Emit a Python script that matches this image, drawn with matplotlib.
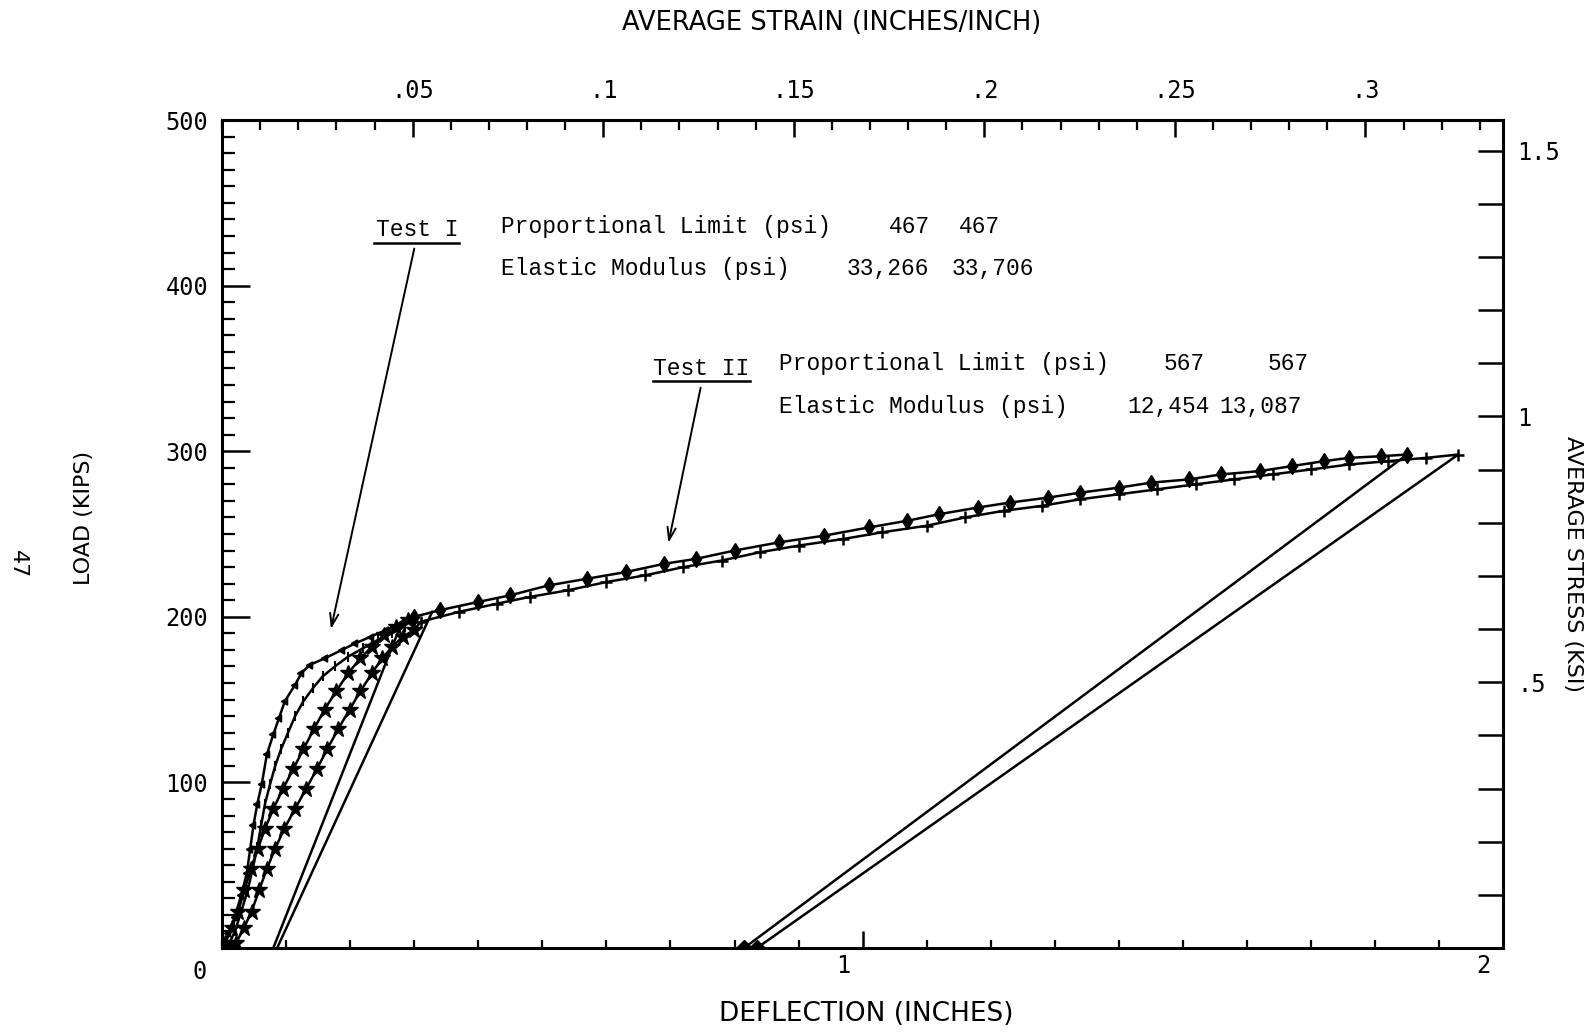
import matplotlib
matplotlib.use('Agg')
import matplotlib.pyplot as plt
from matplotlib.ticker import MultipleLocator

# ---- data (deflection in inches, load in kips) ----
test1a_defl = [0.0, 0.010, 0.020, 0.030, 0.0385, 0.044, 0.049, 0.055, 0.062, 0.070, 0.080,
               0.089, 0.098, 0.114, 0.124, 0.137, 0.161, 0.187, 0.208, 0.232, 0.256, 0.280]
test1a_load = [0, 9, 19, 32, 45, 60, 74, 87, 99, 117, 129,
               139, 149, 159, 166, 171, 175, 180, 184, 188, 192, 196]

test1b_defl = [0.008, 0.020, 0.030, 0.040, 0.048, 0.055, 0.061, 0.067, 0.075, 0.083, 0.092,
               0.103, 0.114, 0.127, 0.142, 0.157, 0.176, 0.197, 0.220, 0.243, 0.265, 0.285]
test1b_load = [0, 10, 22, 35, 48, 61, 74, 87, 99, 110, 120,
               130, 140, 149, 157, 164, 170, 176, 181, 186, 190, 194]

# Test I unloading lines
unload1a_defl = [0.280, 0.080]
unload1a_load = [196, 0]
unload1b_defl = [0.328, 0.086]
unload1b_load = [203, 0]

# Test II, first gauge: low (star) part then long part (diamonds)
test2a_defl = [0.005, 0.015, 0.025, 0.035, 0.045, 0.056, 0.067, 0.080, 0.095, 0.111, 0.127,
               0.143, 0.160, 0.178, 0.197, 0.216, 0.234, 0.253, 0.272, 0.290,
               0.30, 0.34, 0.40, 0.45, 0.51, 0.57, 0.63, 0.69, 0.74, 0.80, 0.87, 0.94,
               1.01, 1.07, 1.12, 1.18, 1.23, 1.29, 1.34, 1.40, 1.45, 1.51, 1.56, 1.62,
               1.67, 1.72, 1.76, 1.81, 1.85]
test2a_load = [3, 12, 22, 35, 48, 60, 72, 84, 96, 108, 120,
               132, 144, 155, 166, 175, 182, 189, 194, 198,
               200, 204, 209, 213, 219, 223, 227, 232, 235, 240, 245, 249,
               254, 258, 262, 266, 269, 272, 275, 278, 281, 283, 286, 288,
               291, 294, 296, 297, 298]
n_low2a = 20

test2b_defl = [0.012, 0.022, 0.034, 0.046, 0.058, 0.070, 0.083, 0.097, 0.114, 0.131, 0.148,
               0.164, 0.181, 0.199, 0.216, 0.234, 0.250, 0.266, 0.282, 0.300,
               0.31, 0.37, 0.43, 0.48, 0.54, 0.60, 0.66, 0.72, 0.78, 0.84, 0.90, 0.97,
               1.03, 1.10, 1.16, 1.22, 1.28, 1.34, 1.40, 1.46, 1.52, 1.58, 1.64, 1.70,
               1.76, 1.82, 1.88, 1.93]
test2b_load = [0, 3, 12, 22, 35, 48, 60, 72, 84, 96, 108,
               120, 132, 144, 155, 166, 175, 182, 188, 192,
               197, 203, 208, 212, 216, 221, 225, 230, 234, 239, 243, 247,
               251, 255, 260, 264, 267, 271, 274, 277, 280, 283, 286, 289,
               292, 294, 296, 298]
n_low2b = 20

# Test II unloading lines
unload2a_defl = [1.85, 0.815]
unload2a_load = [298, 0]
unload2b_defl = [1.93, 0.835]
unload2b_load = [298, 0]

gauge_length = 5.95   # inches, deflection -> strain
area = 321.0          # in^2, kips -> ksi

y_ticks = [100, 200, 300, 400, 500]
y_ticklabels = ['100', '200', '300', '400', '500']
x_ticks = [1, 2]
x_ticklabels = ['1', '2']
strain_ticks = [0.05, 0.10, 0.15, 0.20, 0.25, 0.30]
strain_labels = ['.05', '.1', '.15', '.2', '.25', '.3']
stress_ticks = [0.5, 1.0, 1.5]
stress_labels = ['.5', '1', '1.5']

# ---- figure ----
fig = plt.figure(figsize=(15.93, 10.33), dpi=100)
ax = fig.add_axes([0.1394, 0.0823, 0.8042, 0.8015])
ax.set_xlim(0, 2)
ax.set_ylim(0, 500)

lc = 'black'
lw = 1.8
ax.plot(test1a_defl, test1a_load, color=lc, lw=lw, marker=(3, 0, 90), ms=6)
ax.plot(test1b_defl, test1b_load, color=lc, lw=lw, marker='|', ms=7, mew=1.5)
ax.plot(unload1a_defl, unload1a_load, color=lc, lw=lw)
ax.plot(unload1b_defl, unload1b_load, color=lc, lw=lw)

ax.plot(test2a_defl, test2a_load, color=lc, lw=lw)
ax.plot(test2a_defl[:n_low2a], test2a_load[:n_low2a], ls='none', marker='*', ms=12, color=lc)
ax.plot(test2a_defl[n_low2a:], test2a_load[n_low2a:], ls='none', marker='d', ms=8, color=lc)
ax.plot(test2b_defl, test2b_load, color=lc, lw=lw)
ax.plot(test2b_defl[:n_low2b], test2b_load[:n_low2b], ls='none', marker='*', ms=12, color=lc)
ax.plot(test2b_defl[n_low2b:], test2b_load[n_low2b:], ls='none', marker='+', ms=9, mew=1.8, color=lc)
ax.plot(unload2a_defl, unload2a_load, color=lc, lw=lw, marker='D', ms=8, markevery=[1])
ax.plot(unload2b_defl, unload2b_load, color=lc, lw=lw, marker='D', ms=8, markevery=[1])

# ---- axes / ticks ----
for s in ax.spines.values():
    s.set_linewidth(2.2)

ax.set_yticks(y_ticks, y_ticklabels)
ax.yaxis.set_minor_locator(MultipleLocator(10))
ax.set_xticks(x_ticks, ['', ''])
ax.xaxis.set_minor_locator(MultipleLocator(0.1))
ax.tick_params(axis='y', which='major', direction='in', length=20, width=1.8, pad=10,
               labelsize=17, labelfontfamily='DejaVu Sans Mono')
ax.tick_params(axis='y', which='minor', direction='in', length=9, width=1.6)
ax.tick_params(axis='x', which='major', direction='in', length=12, width=1.8)
ax.tick_params(axis='x', which='minor', direction='in', length=6, width=1.6)

for xv, lab in zip(x_ticks, x_ticklabels):
    ax.annotate(lab, xy=(xv, 0), xycoords=('data', 'axes fraction'),
                xytext=(-14, -13), textcoords='offset points',
                ha='center', va='center', fontsize=17, family='DejaVu Sans Mono')
ax.annotate('0', xy=(0, 0), xycoords='axes fraction', xytext=(-16, -17),
            textcoords='offset points', ha='center', va='center',
            fontsize=17, family='DejaVu Sans Mono')

# top: average strain
axt = ax.twiny()
axt.set_xlim(0, 2 / gauge_length)
axt.set_xticks(strain_ticks, strain_labels)
axt.xaxis.set_minor_locator(MultipleLocator(0.01))
axt.tick_params(axis='x', which='major', direction='in', length=12, width=1.8, pad=12,
                labelsize=17, labelfontfamily='DejaVu Sans Mono')
axt.tick_params(axis='x', which='minor', direction='in', length=7, width=1.6)

# right: average stress
axr = ax.twinx()
axr.set_ylim(0, 500 / area)
axr.set_yticks(stress_ticks, stress_labels)
axr.yaxis.set_minor_locator(MultipleLocator(0.1))
axr.tick_params(axis='y', which='both', direction='in', length=18, width=1.8, pad=10,
                labelsize=17, labelfontfamily='DejaVu Sans Mono')

# ---- labels ----
fig.text(0.522, 0.978, 'AVERAGE STRAIN (INCHES/INCH)', ha='center', va='center', fontsize=18.5)
fig.text(0.544, 0.018, 'DEFLECTION (INCHES)', ha='center', va='center', fontsize=19)
fig.text(0.0527, 0.4985, 'LOAD (KIPS)', ha='center', va='center', rotation=90, fontsize=16)
fig.text(0.9874, 0.454, 'AVERAGE STRESS (KSI)', ha='center', va='center', rotation=270, fontsize=16)
fig.text(0.0113, 0.454, '47', ha='center', va='center', rotation=270, fontsize=16)

# ---- annotations ----
mono = dict(family='Liberation Mono', fontsize=16.5, va='center')
ax.text(0.304, 434, 'Test I', ha='center', **mono)
ax.plot([0.237, 0.370], [426, 426], color=lc, lw=1.8)
ax.text(0.436, 436, 'Proportional Limit (psi)', ha='left', **mono)
ax.text(1.073, 436, '467', ha='center', **mono)
ax.text(1.182, 436, '467', ha='center', **mono)
ax.text(0.436, 410.6, 'Elastic Modulus (psi)', ha='left', **mono)
ax.text(1.040, 410.6, '33,266', ha='center', **mono)
ax.text(1.204, 410.6, '33,706', ha='center', **mono)

ax.text(0.748, 350, 'Test II', ha='center', **mono)
ax.plot([0.673, 0.824], [342.4, 342.4], color=lc, lw=1.8)
ax.text(0.870, 352.7, 'Proportional Limit (psi)', ha='left', **mono)
ax.text(1.502, 352.7, '567', ha='center', **mono)
ax.text(1.664, 352.7, '567', ha='center', **mono)
ax.text(0.870, 327.3, 'Elastic Modulus (psi)', ha='left', **mono)
ax.text(1.477, 327.3, '12,454', ha='center', **mono)
ax.text(1.621, 327.3, '13,087', ha='center', **mono)

arrow = dict(arrowstyle='->,head_length=0.9,head_width=0.3', color=lc, lw=1.4)
ax.annotate('', xy=(0.169, 191), xytext=(0.301, 424), arrowprops=arrow)
ax.annotate('', xy=(0.696, 243), xytext=(0.748, 340), arrowprops=arrow)

fig.savefig('out.png', dpi=100, facecolor='white')
